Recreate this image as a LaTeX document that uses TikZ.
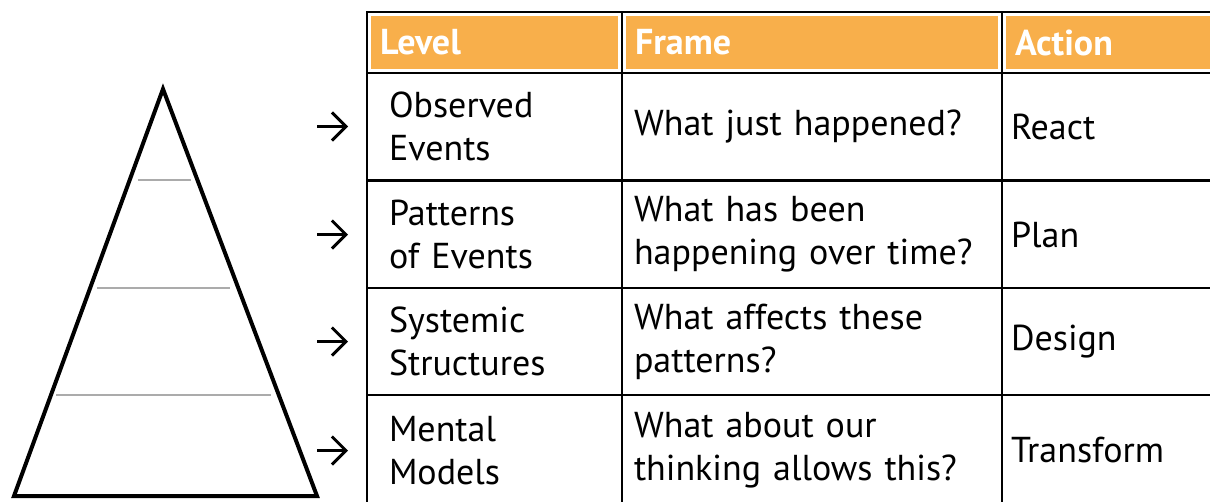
\documentclass[tikz,border=0pt]{standalone}
\usepackage{fontspec}
\setmainfont{PT Sans}
\usetikzlibrary{arrows.meta}
\definecolor{hdrorange}{HTML}{F8AF4B}
\definecolor{tiergray}{HTML}{ABABAB}

\begin{document}
\begin{tikzpicture}[x=1pt, y=-1pt,
  cell/.style={draw=black, line width=2.5pt, anchor=north west, outer sep=0pt, inner ysep=0pt, align=left, minimum height=107pt, font=\fontsize{36}{43}\selectfont},
  hdr/.style={cell, minimum height=61pt, text=white, font=\fontsize{36}{43}\selectfont\bfseries, inner xsep=13pt, path picture={\fill[hdrorange] ([shift={(4pt,-4pt)}]path picture bounding box.north west) rectangle ([shift={(-4pt,4pt)}]path picture bounding box.south east);}},
  lvl/.style={text width=211pt, inner xsep=22pt},
  frm/.style={text width=356pt, inner xsep=12pt},
  act/.style={text width=242pt, inner xsep=9pt},
  pointer/.style={line width=3pt, -{Straight Barb[length=14pt, width=28pt]}, shorten >=19pt},
  tier/.style={tiergray, line width=2pt}]
  \clip (0,0) rectangle (1210,501);

  % pyramid
  \draw[line width=4pt] (163,89) -- (317,496) -- (14,496) -- cycle;
  \draw[tier] (138,180) -- (191,180);
  \draw[tier] (97,288) -- (230,288);
  \draw[tier] (56,395) -- (271,395);

  % header
  \node[hdr, text width=229pt] (hlvl) at (367,12) {Level};
  \node[hdr, text width=354pt] (hfrm) at (622,12) {Frame};
  \node[hdr, text width=234pt] (hact) at (1002,12) {Action};

  % rows
  \node[cell, lvl] (lvl1) at (367,73) {Observed\\Events};
  \node[cell, frm] (frm1) at (622,73) {What just happened?};
  \node[cell, act] (act1) at (1002,73) {React};

  \node[cell, lvl] (lvl2) at (367,181) {Patterns\\of Events};
  \node[cell, frm] (frm2) at (622,181) {What has been\\happening over time?};
  \node[cell, act] (act2) at (1002,181) {Plan};

  \node[cell, lvl] (lvl3) at (367,288) {Systemic\\Structures};
  \node[cell, frm] (frm3) at (622,288) {What affects these\\patterns?};
  \node[cell, act] (act3) at (1002,288) {Design};

  % last row runs off the page
  \node[cell, lvl, minimum height=111pt] (lvl4) at (367,395) {Mental\\Models};
  \node[cell, frm, minimum height=111pt] (frm4) at (622,395) {What about our\\thinking allows this?};
  \node[cell, act, minimum height=111pt] (act4) at (1002,395) {Transform};

  \foreach \i in {1,...,4} {
    \coordinate (tail\i) at ([xshift=-50pt]lvl\i.west);
    \draw[pointer] (tail\i) -- (lvl\i.west);
  }
\end{tikzpicture}
\end{document}
